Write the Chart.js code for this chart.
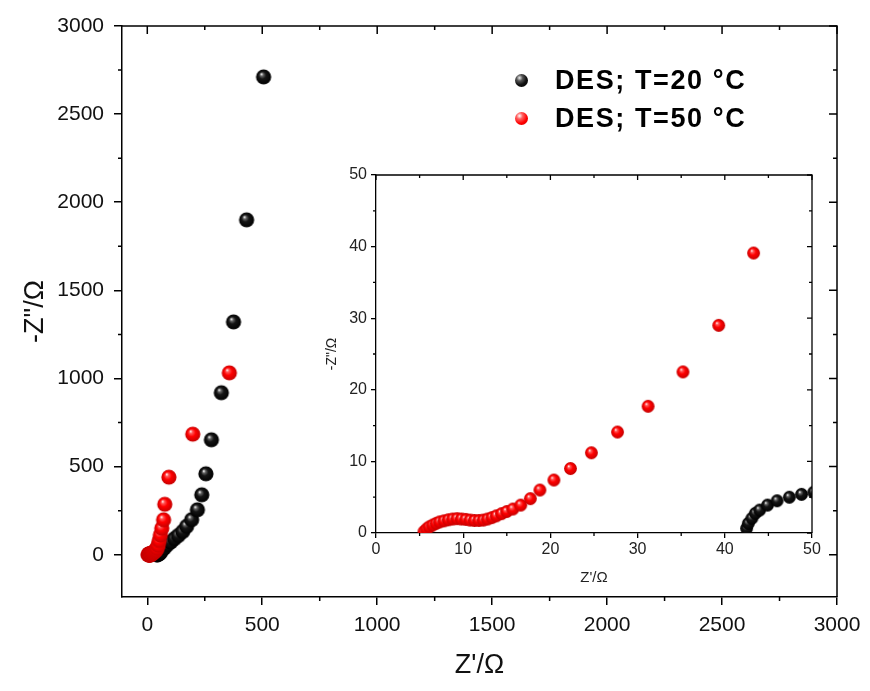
<!DOCTYPE html>
<html>
<head>
<meta charset="utf-8">
<script src="https://cdn.jsdelivr.net/npm/chart.js@4.4.1/dist/chart.umd.min.js"></script>
<style>
  html, body { margin:0; padding:0; background:#fff; }
  #wrap { position:relative; width:870px; height:691px; }
  #main { position:absolute; left:0; top:0; }
  #inset { position:absolute; left:300px; top:160px; }
  .leg { position:absolute; left:515px; font-family:'Liberation Sans', Arial, sans-serif; font-weight:bold; font-size:27px; letter-spacing:1.6px; color:#000; white-space:nowrap; }
  .leg .dot { position:absolute; left:0; width:13px; height:13px; border-radius:50%; }
  .leg .txt { position:absolute; left:40px; line-height:30px; }
</style>
</head>
<body>
<div id="wrap">
  <canvas id="main" width="870" height="691"></canvas>
  <canvas id="inset" width="525" height="430"></canvas>
  <div class="leg" style="top:65px"><div class="dot" style="top:9px;background:radial-gradient(circle at 35% 30%, #eee 0%, #555 25%, #111 55%, #000 100%);"></div><div class="txt">DES; T=20 °C</div></div>
  <div class="leg" style="top:103px"><div class="dot" style="top:9px;background:radial-gradient(circle at 35% 30%, #fff 0%, #ff6060 25%, #f00 60%, #c00 100%);"></div><div class="txt">DES; T=50 °C</div></div>
</div>
<script>
// ---------------- DATA ----------------
const seriesNames = ['DES; T=20 °C', 'DES; T=50 °C'];

// DES, T=20 °C  (Z'/Ω , -Z''/Ω)
const t20_zre = [42.5, 42.7, 43.1, 43.5, 44.0, 44.9, 46.0, 47.4, 48.8, 50.2, 53, 56, 60, 74, 87, 102, 118, 135, 154, 171, 193, 218, 237, 255, 279, 322, 375, 432, 506];
const t20_zim = [0.65, 1.35, 2.05, 2.75, 3.2, 3.9, 4.5, 5.0, 5.4, 5.7, 9, 13, 19, 38, 57, 72, 91, 109, 132, 161, 199, 255, 340, 459, 652, 919, 1321, 1900, 2711];

// DES, T=50 °C
const t50_zre = [5.5, 5.8, 6.1, 6.5, 6.9, 7.3, 7.8, 8.3, 8.8, 9.3, 9.8, 10.3, 10.8, 11.3, 11.8, 12.3, 12.8, 13.3, 13.8, 14.4, 15.0, 15.7, 16.6, 17.7, 18.8, 20.4, 22.3, 24.7, 27.7, 31.2, 35.2, 39.3, 43.3, 47.5, 52, 57, 63, 71, 76, 94, 198, 357];
const t50_zim = [0.2, 0.55, 0.85, 1.1, 1.35, 1.55, 1.7, 1.85, 1.95, 2.0, 1.95, 1.9, 1.8, 1.75, 1.75, 1.8, 1.95, 2.15, 2.4, 2.7, 3.0, 3.35, 3.9, 4.8, 6.0, 7.4, 9.0, 11.2, 14.1, 17.7, 22.5, 29.0, 39.1, 55, 80, 112, 150, 198, 286, 440, 684, 1032];

// axes
const mainXTicks = [0, 500, 1000, 1500, 2000, 2500, 3000];
const mainXMinor = [250, 750, 1250, 1750, 2250, 2750];
const mainYTicks = [0, 500, 1000, 1500, 2000, 2500, 3000];
const mainYMinor = [-250, 250, 750, 1250, 1750, 2250, 2750];
const insetXTicks = [0, 10, 20, 30, 40, 50];
const insetXMinor = [5, 15, 25, 35, 45];
const insetYTicks = [0, 10, 20, 30, 40, 50];
const insetYMinor = [5, 15, 25, 35, 45];

// ---------------- STYLE HELPERS ----------------
function sphere(r, stops) {
  const s = Math.ceil(r * 2 + 2);
  const c = document.createElement('canvas');
  c.width = s; c.height = s;
  const g = c.getContext('2d');
  const cx = s / 2, cy = s / 2;
  const gr = g.createRadialGradient(cx - r * 0.3, cy - r * 0.38, r * 0.04, cx, cy, r);
  stops.forEach(st => gr.addColorStop(st[0], st[1]));
  g.fillStyle = gr;
  g.beginPath(); g.arc(cx, cy, r, 0, Math.PI * 2); g.fill();
  return c;
}
const blackStops = [[0, '#f4f4f4'], [0.18, '#666'], [0.45, '#151515'], [1, '#000']];
const redStops = [[0, '#fff4f4'], [0.18, '#ff5a5a'], [0.5, '#f00'], [1, '#c40000']];

function pts(xs, ys) { return xs.map((v, i) => ({ x: v, y: ys[i] })); }
const plain = v => String(v);

const FONT = "'Liberation Sans', Arial, sans-serif";

function framePlugin(id) {
  return {
    id: id,
    afterDraw(chart, args, o) {
      const { ctx, chartArea: a, scales } = chart;
      const x = scales.x, y = scales.y;
      ctx.save();
      ctx.strokeStyle = '#000';
      ctx.lineWidth = o.lw;
      ctx.beginPath();
      ctx.moveTo(a.left, a.top); ctx.lineTo(a.right, a.top); ctx.lineTo(a.right, a.bottom);
      ctx.stroke();
      ctx.beginPath();
      o.xMajor.forEach(v => { const p = x.getPixelForValue(v); ctx.moveTo(p, a.top); ctx.lineTo(p, a.top + o.maj); });
      o.yMajor.forEach(v => { const p = y.getPixelForValue(v); ctx.moveTo(a.right, p); ctx.lineTo(a.right - o.maj, p); });
      o.xMinor.forEach(v => { const p = x.getPixelForValue(v);
        ctx.moveTo(p, a.bottom); ctx.lineTo(p, a.bottom + o.min);
        ctx.moveTo(p, a.top); ctx.lineTo(p, a.top + o.min); });
      o.yMinor.forEach(v => { const p = y.getPixelForValue(v);
        if (p > a.bottom + 0.5) return;
        ctx.moveTo(a.left, p); ctx.lineTo(a.left - o.min, p);
        ctx.moveTo(a.right, p); ctx.lineTo(a.right - o.min, p); });
      ctx.stroke();
      ctx.restore();
    }
  };
}

// ---------------- MAIN CHART ----------------
const bigBlack = sphere(7.6, blackStops);
const bigRed = sphere(7.6, redStops);

new Chart(document.getElementById('main'), {
  type: 'scatter',
  data: {
    datasets: [
      { label: seriesNames[1], data: pts(t50_zre, t50_zim), pointStyle: bigRed, pointRadius: 7, showLine: false },
      { label: seriesNames[0], data: pts(t20_zre, t20_zim), pointStyle: bigBlack, pointRadius: 7, showLine: false }
    ]
  },
  options: {
    responsive: false, animation: false,
    layout: { padding: { top: 26, right: 33, left: 0, bottom: 0 } },
    plugins: {
      legend: { display: false }, tooltip: { enabled: false },
      mainFrame: { lw: 1.5, maj: 8, min: 4, xMajor: mainXTicks, yMajor: mainYTicks, xMinor: mainXMinor, yMinor: mainYMinor }
    },
    scales: {
      x: {
        type: 'linear', min: -110, max: 3000,
        afterBuildTicks: s => { s.ticks = mainXTicks.map(v => ({ value: v })); },
        afterFit: s => { s.height = 94; },
        grid: { display: true, drawOnChartArea: false, color: '#000', lineWidth: 1.5, tickLength: 8 },
        border: { display: true, color: '#000', width: 1.5 },
        ticks: { color: '#111', font: { family: FONT, size: 21 }, padding: 8, maxRotation: 0, callback: plain },
        title: { display: true, text: "Z'/Ω", color: '#111', font: { family: FONT, size: 27 }, padding: { top: 0, bottom: 9 } }
      },
      y: {
        type: 'linear', min: -240, max: 3000,
        afterBuildTicks: s => { s.ticks = mainYTicks.map(v => ({ value: v })); },
        afterFit: s => { s.width = 122; },
        grid: { display: true, drawOnChartArea: false, color: '#000', lineWidth: 1.5, tickLength: 8 },
        border: { display: true, color: '#000', width: 1.5 },
        ticks: { color: '#111', font: { family: FONT, size: 21 }, padding: 10, callback: plain },
        title: { display: true, text: '-Z"/Ω', color: '#111', font: { family: FONT, size: 27 }, padding: { top: 19, bottom: 0 } }
      }
    }
  },
  plugins: [framePlugin('mainFrame')]
});

// ---------------- INSET CHART ----------------
const smBlack = sphere(6.4, blackStops);
const smRed = sphere(6.4, redStops);

new Chart(document.getElementById('inset'), {
  type: 'scatter',
  data: {
    datasets: [
      { label: seriesNames[1], data: pts(t50_zre, t50_zim), pointStyle: smRed, pointRadius: 6, showLine: false },
      { label: seriesNames[0], data: pts(t20_zre, t20_zim), pointStyle: smBlack, pointRadius: 6, showLine: false }
    ]
  },
  options: {
    responsive: false, animation: false,
    layout: { padding: { top: 15, right: 13, left: 0, bottom: 0 } },
    plugins: {
      legend: { display: false }, tooltip: { enabled: false },
      insetFrame: { lw: 1.3, maj: 5, min: 3, xMajor: insetXTicks, yMajor: insetYTicks, xMinor: insetXMinor, yMinor: insetYMinor }
    },
    scales: {
      x: {
        type: 'linear', min: 0, max: 50,
        afterBuildTicks: s => { s.ticks = insetXTicks.map(v => ({ value: v })); },
        afterFit: s => { s.height = 57; },
        grid: { display: true, drawOnChartArea: false, color: '#000', lineWidth: 1.3, tickLength: 5 },
        border: { display: true, color: '#000', width: 1.3 },
        ticks: { color: '#222', font: { family: FONT, size: 16 }, padding: 2, maxRotation: 0, callback: plain },
        title: { display: true, text: "Z'/Ω", color: '#222', font: { family: FONT, size: 15 }, padding: { top: 0, bottom: 3 } }
      },
      y: {
        type: 'linear', min: 0, max: 50,
        afterBuildTicks: s => { s.ticks = insetYTicks.map(v => ({ value: v })); },
        afterFit: s => { s.width = 76; },
        grid: { display: true, drawOnChartArea: false, color: '#000', lineWidth: 1.3, tickLength: 5 },
        border: { display: true, color: '#000', width: 1.3 },
        ticks: { color: '#222', font: { family: FONT, size: 16 }, padding: 4, callback: plain },
        title: { display: true, text: '-Z"/Ω', color: '#222', font: { family: FONT, size: 14 }, padding: { top: 24, bottom: 0 } }
      }
    }
  },
  plugins: [framePlugin('insetFrame')]
});
</script>
</body>
</html>
